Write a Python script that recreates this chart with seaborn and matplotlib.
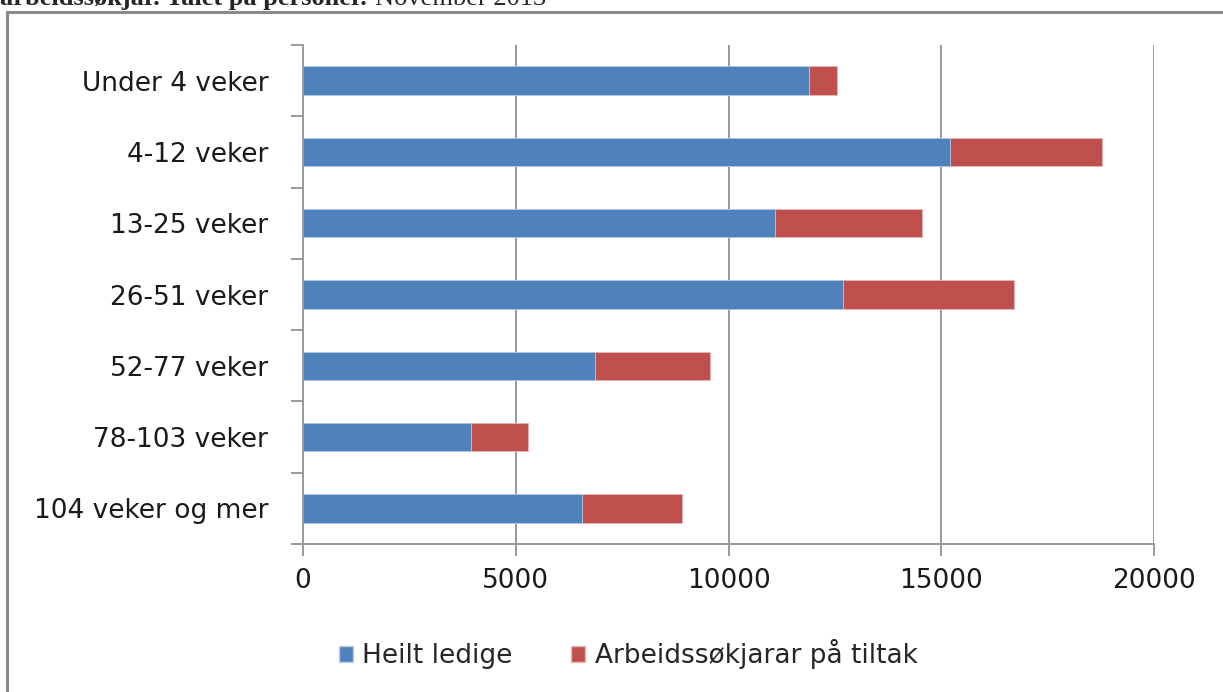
import matplotlib
matplotlib.use("Agg")
import matplotlib.pyplot as plt
from matplotlib.patches import Patch, Rectangle
import seaborn as sns

categories = ["Under 4 veker", "4-12 veker", "13-25 veker", "26-51 veker",
              "52-77 veker", "78-103 veker", "104 veker og mer"]
heilt_ledige = [11900, 15200, 11100, 12700, 6870, 3950, 6560]
tiltak = [650, 3570, 3450, 4010, 2690, 1340, 2340]
series_names = ["Heilt ledige", "Arbeidssøkjarar på tiltak"]
x_ticks = [0, 5000, 10000, 15000, 20000]

BLUE = "#4F81BD"
RED = "#C0504D"
GRID = "#9a9a9a"
FONT = "DejaVu Sans"
FS = 19


def main():
    sns.set_style("white")
    plt.rcParams["font.family"] = [FONT]

    fig = plt.figure(figsize=(12.23, 6.92), dpi=100)
    ax = fig.add_axes([303 / 1223, 1 - 544 / 692, 851 / 1223, 499 / 692])

    totals = [a + b for a, b in zip(heilt_ledige, tiltak)]
    sns.barplot(x=totals, y=categories, color=RED, orient="h", width=0.4,
                saturation=1, ax=ax, edgecolor="#e8b8b6", linewidth=0.6)
    sns.barplot(x=heilt_ledige, y=categories, color=BLUE, orient="h", width=0.4,
                saturation=1, ax=ax, edgecolor="#b9cde6", linewidth=0.6)

    ax.set_xlim(0, 20000)
    ax.set_ylim(6.5, -0.5)
    ax.set_xticks(x_ticks)
    ax.set_xticklabels([str(t) for t in x_ticks])
    ax.set_yticks(range(len(categories)))
    ax.set_yticklabels(categories)
    ax.set_yticks([i - 0.5 for i in range(len(categories) + 1)], minor=True)
    ax.set_xlabel("")
    ax.set_ylabel("")

    for x in x_ticks[1:]:
        ax.axvline(x, color=GRID, lw=1.4, zorder=0)

    for side in ["top", "right"]:
        ax.spines[side].set_visible(False)
    for side in ["left", "bottom"]:
        ax.spines[side].set_color(GRID)
        ax.spines[side].set_linewidth(1.4)

    ax.tick_params(axis="y", which="major", length=0, pad=25, labelsize=FS,
                   labelcolor="#1a1a1a")
    ax.tick_params(axis="y", which="minor", left=True, length=8.5, width=1.4,
                   color=GRID)
    ax.tick_params(axis="x", which="major", bottom=True, length=8.5, width=1.4,
                   color=GRID, pad=9, labelsize=FS, labelcolor="#1a1a1a")
    ax.set_axisbelow(True)

    handles = [Patch(facecolor=BLUE, edgecolor="#b9cde6"),
               Patch(facecolor=RED, edgecolor="#e8b8b6")]
    fig.legend(handles, series_names, loc="center", ncol=2,
               bbox_to_anchor=(628 / 1223, 1 - 654 / 692), frameon=False,
               fontsize=FS, handlelength=0.55, handleheight=0.55,
               handletextpad=0.35, columnspacing=2.2)

    # frame around the chart, partly outside the image
    fig.patches.append(Rectangle((7 / 1223, -0.1), 1.2, (692 - 12) / 692 + 0.1,
                                 transform=fig.transFigure, fill=False,
                                 edgecolor="#8a8a8a", lw=2.2))

    # heading, cut off at the top edge
    t = fig.text(0.0, 1 - 5 / 692, "arbeidssøkjar. Talet på personer.",
                 family="Liberation Serif", weight="bold", fontsize=19,
                 va="baseline", ha="left")
    fig.canvas.draw()
    bb = t.get_window_extent()
    fig.text((bb.x1 + 8) / 1223, 1 - 5 / 692, "November 2013",
             family="Liberation Serif", fontsize=19, va="baseline", ha="left")

    fig.savefig("out.png", dpi=100)


if __name__ == "__main__":
    main()
